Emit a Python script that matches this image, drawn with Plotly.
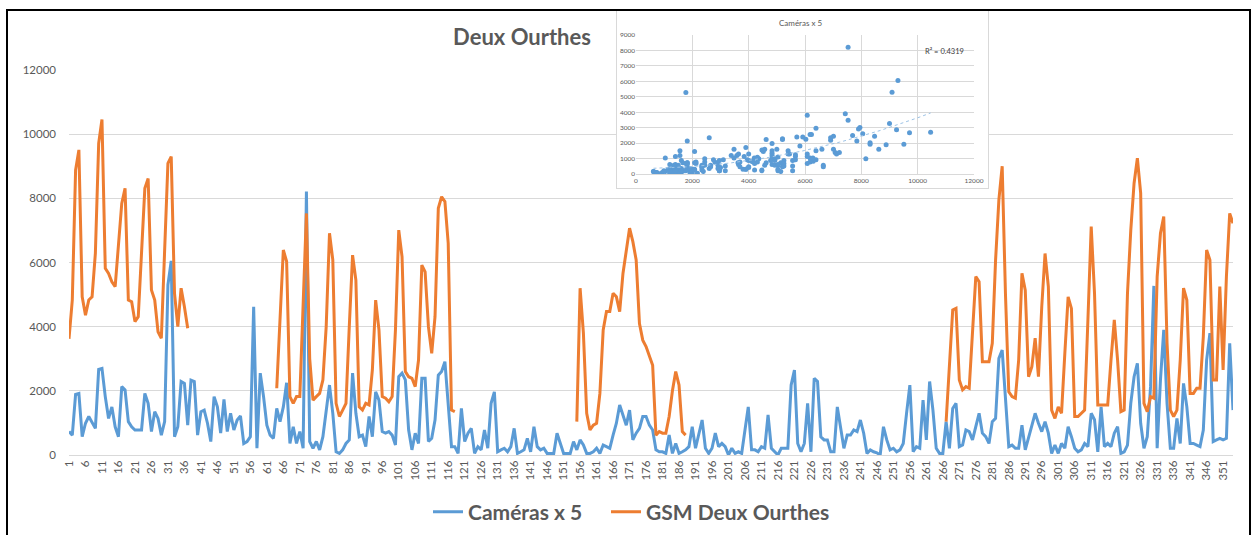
import numpy as np
import plotly.graph_objects as go

# ---------------- data ----------------
days = list(range(1, 355))

cameras_x5 = [
    730, 620, 1890, 1920, 570, 990, 1200, 990, 830, 2670,
    2700, 1820, 1140, 1500, 880, 570, 2130, 2030, 1040, 880,
    780, 780, 780, 1920, 1610, 730, 1350, 1140, 620, 1040,
    5300, 6050, 570, 880, 2290, 2230, 930, 2330, 2290, 620,
    1350, 1400, 990, 420, 1820, 1500, 680, 1735, 730, 1300,
    780, 1090, 1215, 360, 420, 570, 4620, 210, 2550, 1820,
    930, 620, 520, 1450, 1040, 1500, 2250, 360, 880, 360,
    730, 210, 8210, 420, 210, 420, 160, 570, 1300, 2180,
    1300, 100, 50, 160, 360, 470, 2550, 1300, 570, 620,
    260, 1200, 570, 1970, 1710, 730, 680, 730, 620, 310,
    2440, 2550, 2340, 780, 160, 680, 360, 2390, 2390, 420,
    520, 1090, 2490, 2600, 2910, 1610, 260, 260, 50, 1450,
    420, 680, 830, 50, 260, 160, 780, 210, 1610, 1970,
    100, 160, 210, 100, 260, 830, 50, 100, 160, 520,
    100, 880, 260, 160, 210, 50, 50, 50, 680, 360,
    50, 50, 50, 420, 160, 470, 310, 50, 50, 100,
    210, 50, 310, 260, 210, 620, 990, 1560, 1250, 930,
    1400, 470, 680, 830, 1200, 1200, 930, 780, 160, 100,
    100, 50, 620, 50, 360, 50, 100, 160, 260, 880,
    210, 680, 1090, 210, 50, 210, 680, 260, 360, 260,
    0, 210, 50, 100, 50, 780, 1500, 160, 160, 100,
    260, 210, 1250, 210, 100, 0, 210, 210, 210, 2180,
    2650, 360, 100, 360, 1610, 100, 2390, 2290, 570, 470,
    470, 100, 100, 1500, 780, 210, 620, 620, 780, 730,
    1090, 680, 50, 160, 100, 70, 0, 880, 470, 160,
    210, 100, 160, 360, 1300, 2180, 100, 260, 210, 1710,
    470, 2290, 1400, 210, 50, 50, 1040, 210, 1450, 1610,
    260, 310, 780, 730, 470, 880, 1300, 680, 570, 360,
    1040, 1140, 3010, 3270, 1610, 260, 310, 210, 210, 930,
    160, 570, 930, 1300, 990, 730, 1040, 680, 50, 310,
    50, 360, 210, 880, 570, 210, 100, 160, 360, 260,
    1300, 1100, 100, 1500, 260, 360, 260, 680, 880, 50,
    100, 310, 1610, 2440, 2860, 990, 210, 570, 2130, 5270,
    210, 2340, 3900, 1610, 210, 210, 1140, 360, 2230, 1500,
    360, 360, 310, 260, 780, 2960, 3800, 420, 470, 520,
    470, 520, 3480, 1400,
]

N = None
gsm_deux_ourthes = [
    3620, 4830, 8880, 9510, 4930, 4360, 4830, 4930, 6290, 9710,
    10460, 5820, 5660, 5400, 5250, 6650, 7840, 8310, 4830, 4780,
    4160, 4310, 6180, 8310, 8620, 5140, 4830, 3840, 3640, 6180,
    9090, 9300, 5040, 4000, 5200, 4620, 3950, N, N, N,
    N, N, N, N, N, N, N, N, N, N,
    N, N, N, N, N, N, N, N, N, N,
    N, N, N, 2080, 4200, 6390, 6030, 1820, 1610, 1820,
    1820, 5040, 7530, 3000, 1710, 1820, 1920, 2340, 4000, 6910,
    6080, 1610, 1200, 1400, 1610, 4000, 6230, 5450, 1500, 1400,
    1610, 1560, 2650, 4830, 3900, 1820, 1770, 1660, 1820, 3900,
    7010, 6180, 2600, 2440, 2390, 2130, 2960, 5920, 5710, 4000,
    3170, 4310, 7690, 8050, 7900, 6600, 1400, 1350, N, N,
    N, N, N, N, N, N, N, N, N, N,
    N, N, N, N, N, N, N, N, N, N,
    N, N, N, N, N, N, N, N, N, N,
    N, N, N, N, 1040, 5200, 3800, 1300, 780, 930,
    990, 1920, 3900, 4470, 4470, 5040, 4930, 4470, 5660, 6390,
    7070, 6650, 6080, 4100, 3580, 3380, 3100, 2800, 620, 730,
    680, 680, 1200, 2000, 2600, 2180, 730, 620, N, N,
    N, N, N, N, N, N, N, N, N, N,
    N, N, N, N, N, N, N, N, N, N,
    N, N, N, N, N, N, N, N, N, N,
    N, N, N, N, N, N, N, N, N, N,
    N, N, N, N, N, N, N, N, N, N,
    N, N, N, N, N, N, N, N, N, N,
    N, N, N, N, N, N, N, N, N, N,
    N, N, N, N, N, N, 1040, 2960, 4520, 4570,
    2340, 2030, 2130, 2080, 3690, 5560, 5400, 2910, 2910, 2910,
    3480, 6080, 7950, 9000, 5000, 1970, 1820, 1770, 2960, 5660,
    5140, 2440, 2750, 3640, 2440, 4620, 6280, 5250, 1400, 1140,
    1500, 1300, 3170, 4930, 4570, 1200, 1200, 1300, 1400, 4210,
    7120, 5040, 1560, 1560, 1560, 1560, 2960, 4210, 2960, 1350,
    1400, 5040, 7010, 8470, 9250, 8160, 1610, 1350, 1820, 1770,
    5560, 6910, 7430, 3480, 1400, 1200, 1400, 2960, 5200, 4830,
    1920, 1920, 2080, 2080, 3690, 6390, 6080, 2340, 2340, 5250,
    2650, 5560, 7530, 7220,
]

tick_vals = list(range(1, 355, 5))
tick_text = [str(v) for v in tick_vals]

r2_label = "R² = 0.4319"

# ---------------- styling helpers ----------------
W, H = 1253, 535


def px(x):
    return x / W


def py(y):
    return 1 - y / H


BLUE = "#5B9BD5"
ORANGE = "#ED7D31"
GRID = "#D9D9D9"
TXT = "#595959"
FONT = "Lato"

fig = go.Figure()

# main chart
fig.add_trace(go.Scatter(x=days, y=cameras_x5, mode="lines", name="Caméras x 5",
                         line=dict(color=BLUE, width=3), xaxis="x", yaxis="y",
                         hoverinfo="x+y", legend="legend"))
fig.add_trace(go.Scatter(x=days, y=gsm_deux_ourthes, mode="lines", name="GSM Deux Ourthes",
                         line=dict(color=ORANGE, width=3), connectgaps=False,
                         xaxis="x", yaxis="y", hoverinfo="x+y", legend="legend2"))

# inset frame (white panel covering the main grid)
fig.add_trace(go.Scatter(x=[None], y=[None], xaxis="x2", yaxis="y2",
                         showlegend=False, hoverinfo="skip"))

# inset scatter : GSM vs cameras x5
pairs = [(g, c) for g, c in zip(gsm_deux_ourthes, cameras_x5) if g is not None]
sx = np.array([p[0] for p in pairs], dtype=float)
sy = np.array([p[1] for p in pairs], dtype=float)
fig.add_trace(go.Scatter(x=sx, y=sy, mode="markers",
                         marker=dict(color=BLUE, size=5),
                         xaxis="x3", yaxis="y3", showlegend=False))
coef = np.polyfit(sx, sy, 2)
tx = np.linspace(sx.min(), sx.max(), 80)
fig.add_trace(go.Scatter(x=tx, y=np.polyval(coef, tx), mode="lines",
                         line=dict(color="#9DC3E6", width=1, dash="dot"),
                         xaxis="x3", yaxis="y3", showlegend=False, hoverinfo="skip"))

legend_style = dict(orientation="h", xanchor="left", y=py(512), yanchor="middle",
                    font=dict(family=FONT, size=21, color=TXT, weight="bold"),
                    bgcolor="rgba(0,0,0,0)", itemwidth=30)

fig.update_layout(
    template="none",
    width=W, height=H,
    margin=dict(l=0, r=0, t=0, b=0),
    paper_bgcolor="white", plot_bgcolor="white",
    font=dict(family=FONT, color=TXT),
    showlegend=True,
    title=dict(text="Deux Ourthes", x=px(522), y=py(37), xref="paper", yref="paper",
               xanchor="center", yanchor="middle",
               font=dict(family=FONT, size=22, color=TXT, weight="bold")),
    legend=dict(x=px(428), **legend_style),
    legend2=dict(x=px(606), **legend_style),
    xaxis=dict(domain=[px(69), px(1233)], range=[1, 354], anchor="y",
               tickmode="array", tickvals=tick_vals, ticktext=tick_text, tickangle=-90,
               tickfont=dict(size=11.5, color=TXT), showgrid=False, zeroline=False,
               showline=True, linecolor=GRID, linewidth=1, ticks="", automargin=False),
    yaxis=dict(domain=[py(455), py(70)], range=[0, 12000], dtick=2000, anchor="x",
               tickformat="d", ticklabelstandoff=12,
               tickfont=dict(size=11.5, color=TXT), showgrid=True, gridcolor=GRID,
               gridwidth=1, zeroline=False, showline=False, ticks="", automargin=False),
    xaxis2=dict(domain=[px(617), px(988)], range=[0, 1], anchor="y2",
                showline=True, mirror=True, linecolor=GRID, linewidth=1,
                showgrid=False, zeroline=False, showticklabels=False, ticks="",
                fixedrange=True, automargin=False),
    yaxis2=dict(domain=[py(188), py(11)], range=[0, 1], anchor="x2",
                showline=True, mirror=True, linecolor=GRID, linewidth=1,
                showgrid=False, zeroline=False, showticklabels=False, ticks="",
                fixedrange=True, automargin=False),
    xaxis3=dict(domain=[px(636), px(974)], range=[0, 12000], dtick=2000, anchor="y3",
                tickformat="d",
                tickfont=dict(size=6.5, color=TXT), showgrid=True, gridcolor=GRID,
                zeroline=False, showline=True, linecolor=GRID, ticks="", automargin=False),
    yaxis3=dict(domain=[py(174), py(35)], range=[0, 9000], dtick=1000, anchor="x3",
                tickformat="d",
                tickfont=dict(size=6.5, color=TXT), showgrid=True, gridcolor=GRID,
                zeroline=False, showline=False, ticks="", automargin=False),
    annotations=[
        dict(text="Caméras x 5", x=px(800), y=py(23), xref="paper", yref="paper",
             showarrow=False, xanchor="center", yanchor="middle",
             font=dict(family=FONT, size=8, color=TXT)),
        dict(text=r2_label, x=px(944), y=py(51), xref="paper", yref="paper",
             showarrow=False, xanchor="center", yanchor="middle",
             font=dict(family=FONT, size=7.5, color="#404040")),
    ],
    shapes=[
        dict(type="rect", xref="paper", yref="paper",
             x0=px(7), x1=px(1250), y0=py(545), y1=py(10),
             line=dict(color="black", width=2), fillcolor="rgba(0,0,0,0)"),
    ],
)

fig.write_html(
    "out.html",
    config={"displayModeBar": False},
    post_script="document.body.style.margin='0';document.body.style.overflow='hidden';",
)
